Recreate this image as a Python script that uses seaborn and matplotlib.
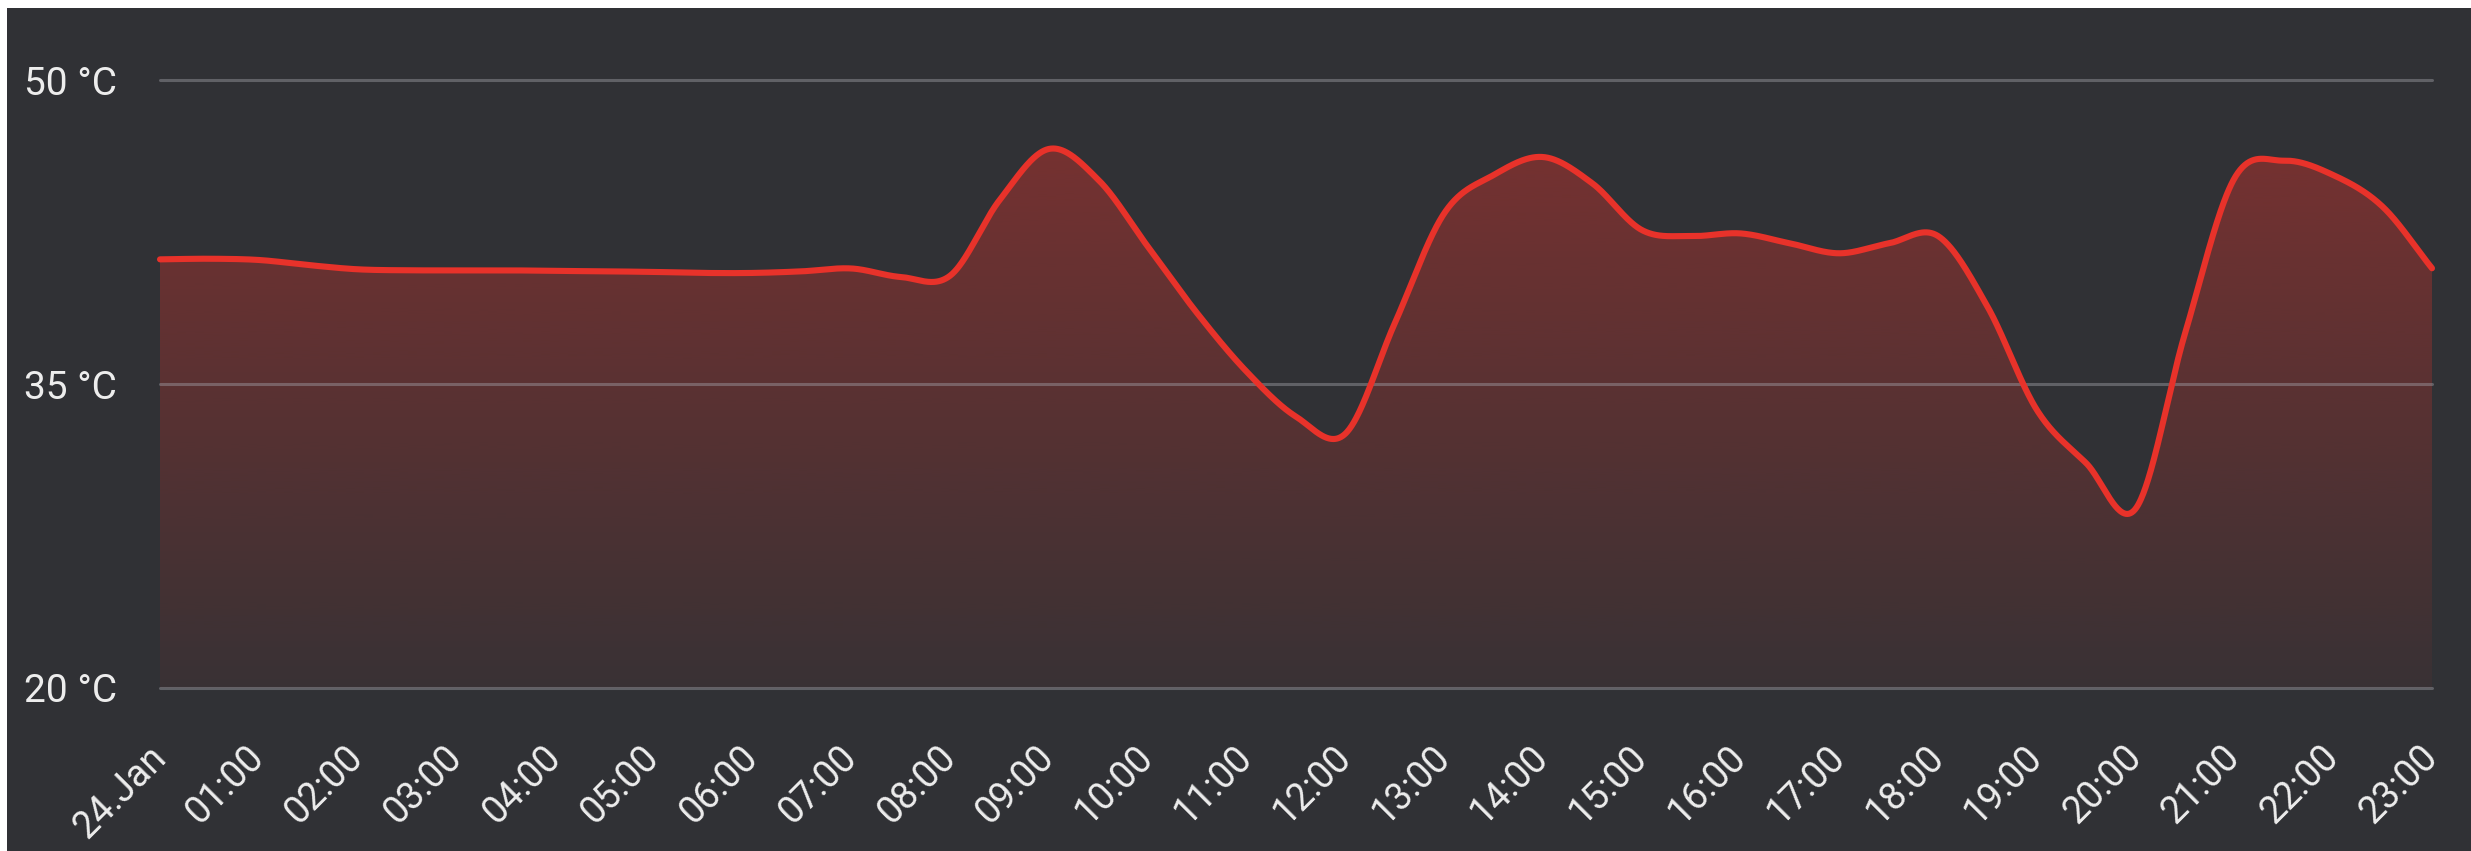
import numpy as np
import pandas as pd
import matplotlib
matplotlib.use("Agg")
import matplotlib.pyplot as plt
import seaborn as sns
from matplotlib.patches import Rectangle, Polygon

# ---- data (half-hourly) ----
hours = [0.0, 0.5, 1.0, 1.5, 2.0, 2.5, 3.0, 3.5, 4.0, 4.5, 5.0, 5.5, 6.0, 6.5,
         7.0, 7.5, 8.0, 8.5, 9.0, 9.5, 10.0, 10.5, 11.0, 11.5, 12.0,
         12.5, 13.0, 13.5, 14.0, 14.5, 15.0, 15.5, 16.0, 16.5, 17.0, 17.5,
         18.0, 18.5, 19.0, 19.5, 20.0, 20.5, 21.0, 21.5, 22.0, 22.5, 23.0]
temps = [41.15, 41.18, 41.12, 40.87, 40.66, 40.61, 40.61, 40.61, 40.58, 40.56,
         40.53, 40.48, 40.48, 40.56, 40.70, 40.28, 40.35, 44.08, 46.60,
         45.07, 41.78, 38.49, 35.61, 33.39, 32.55, 38.0, 43.42, 45.31,
         46.20, 44.90, 42.60, 42.30, 42.43, 41.94, 41.45, 41.94, 42.30,
         38.82, 33.72, 31.09, 28.85, 37.50, 45.15, 46.02, 45.31, 43.75,
         40.71]
tick_hours = list(range(24))
tick_labels = ["24.Jan"] + [f"{h:02d}:00" for h in range(1, 24)]
y_ticks = [20, 35, 50]
y_tick_labels = ["20 °C", "35 °C", "50 °C"]

# ---- style ----
BG = "#303135"
LINE = "#e8322a"
TXT = "#ededed"

sns.set_theme(style="dark")
plt.rcParams["font.family"] = ["Roboto", "DejaVu Sans"]

W, H = 2471, 851
fig = plt.figure(figsize=(W / 100, H / 100), dpi=100)
fig.patch.set_facecolor("white")
fig.patches.append(Rectangle((7 / W, 0), 1, 1 - 8 / H, transform=fig.transFigure,
                             facecolor=BG, edgecolor="none", zorder=-10))

x0, x1 = 160, 2432
y_top, y_bot = 80, 688
ax = fig.add_axes([x0 / W, 1 - y_bot / H, (x1 - x0) / W, (y_bot - y_top) / H])
ax.set_facecolor("none")


def cardinal(x, y, xs):
    """Smooth cubic Hermite curve through the points (Catmull-Rom tangents)."""
    x = np.asarray(x, float)
    y = np.asarray(y, float)
    n = len(x)
    h = np.diff(x)
    m = np.zeros(n)
    m[1:-1] = (y[2:] - y[:-2]) / (x[2:] - x[:-2])
    m[0] = (y[1] - y[0]) / h[0]
    m[-1] = (y[-1] - y[-2]) / h[-1]
    idx = np.clip(np.searchsorted(x, xs) - 1, 0, n - 2)
    hk = h[idx]
    t = (xs - x[idx]) / hk
    h00 = 2 * t**3 - 3 * t**2 + 1
    h10 = t**3 - 2 * t**2 + t
    h01 = -2 * t**3 + 3 * t**2
    h11 = t**3 - t**2
    return h00 * y[idx] + h10 * hk * m[idx] + h01 * y[idx + 1] + h11 * hk * m[idx + 1]


xs = np.linspace(hours[0], hours[-1], 3000)
ys = cardinal(hours, temps, xs)
curve = pd.DataFrame({"hour": xs, "temp": ys})

# gradient area under the curve
verts = np.vstack([np.column_stack([xs, ys]), [[xs[-1], 20], [xs[0], 20]]])
clip_poly = Polygon(verts, closed=True, facecolor="none", edgecolor="none")
ax.add_patch(clip_poly)
ymax = float(np.max(ys))
rgb = np.array(matplotlib.colors.to_rgb(LINE))
grad = np.zeros((256, 1, 4))
grad[..., :3] = rgb
grad[:, 0, 3] = np.linspace(0.05, 0.38, 256)
im = ax.imshow(grad, extent=[0, 23, 20, ymax], origin="lower", aspect="auto",
               zorder=1, interpolation="bilinear")
im.set_clip_path(clip_poly)

# grid lines
for yv in y_ticks:
    ax.axhline(yv, color="#a4a4ac", alpha=0.42, lw=2.2, zorder=2, clip_on=False)

sns.lineplot(data=curve, x="hour", y="temp", ax=ax, color=LINE, linewidth=4.4,
             zorder=3, clip_on=False, estimator=None, sort=False)

ax.set_xlim(0, 23)
ax.set_ylim(20, 50)
ax.set_xlabel("")
ax.set_ylabel("")
for s in ax.spines.values():
    s.set_visible(False)
ax.grid(False)

ax.set_yticks(y_ticks)
ax.set_yticklabels(y_tick_labels)
ax.set_xticks(tick_hours)
ax.set_xticklabels(tick_labels)
ax.tick_params(axis="y", length=0, pad=31, labelsize=28, labelcolor=TXT)
ax.tick_params(axis="x", length=0, pad=46, labelsize=27, labelcolor=TXT)
for lab in ax.get_xticklabels():
    lab.set_rotation(45)
    lab.set_ha("right")
    lab.set_va("center")
    lab.set_rotation_mode("anchor")

fig.savefig("out.png", dpi=100, facecolor=fig.get_facecolor())
